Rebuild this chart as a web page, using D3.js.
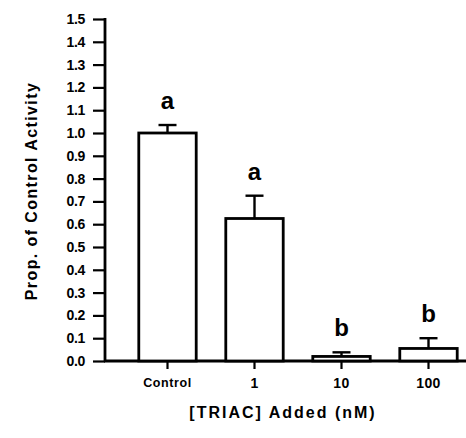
<!DOCTYPE html>
<html>
<head>
<meta charset="utf-8">
<script src="https://cdn.jsdelivr.net/npm/d3@7/dist/d3.min.js"></script>
<style>
  html, body { margin: 0; padding: 0; background: #fff; }
  svg { display: block; }
  text { font-family: "Liberation Sans", Arial, sans-serif; fill: #000; }
</style>
</head>
<body>
<svg id="chart" width="466" height="438"></svg>
<script>
// TRIAC dose response: proportion of control activity (mean + SE)
const categories = ["Control", "1", "10", "100"];
const means = [1.0, 0.625, 0.02, 0.055];
const errors = [0.035, 0.10, 0.018, 0.045];
const letters = ["a", "a", "b", "b"];
const yTicks = [0.0, 0.1, 0.2, 0.3, 0.4, 0.5, 0.6, 0.7, 0.8, 0.9, 1.0, 1.1, 1.2, 1.3, 1.4, 1.5];

const svg = d3.select("#chart");
const axisX = 105;

const x = d3.scaleBand().domain(categories).range([124, 472]).paddingInner(0.34).paddingOuter(0.17);
const y = d3.scaleLinear().domain([0, 1.5]).range([361, 19]);

// y axis
const yAxis = svg.append("g")
  .attr("transform", `translate(${axisX},0)`)
  .call(d3.axisLeft(y).tickValues(yTicks).tickFormat(d3.format(".1f")).tickSize(12).tickPadding(8));
yAxis.select(".domain").remove();
yAxis.selectAll(".tick line").attr("stroke", "#000").attr("stroke-width", 2.2);
yAxis.selectAll(".tick text").attr("font-size", 14).attr("font-weight", "bold").attr("letter-spacing", -0.3);
svg.append("line").attr("x1", axisX).attr("x2", axisX).attr("y1", y(1.5) - 1).attr("y2", y(0) + 1)
  .attr("stroke", "#000").attr("stroke-width", 2.8);

// x axis
const xAxis = svg.append("g")
  .attr("transform", `translate(0,${y(0)})`)
  .call(d3.axisBottom(x).tickSize(8).tickPadding(9));
xAxis.select(".domain").remove();
xAxis.selectAll(".tick line").attr("stroke", "#000").attr("stroke-width", 2.2);
xAxis.selectAll(".tick text").attr("font-weight", "bold")
  .attr("font-size", d => d === "Control" ? 12.5 : 14)
  .attr("letter-spacing", d => d === "Control" ? 0.6 : 0.4);
svg.append("line").attr("x1", axisX - 1).attr("x2", 466).attr("y1", y(0)).attr("y2", y(0))
  .attr("stroke", "#000").attr("stroke-width", 2.8);

// bars
svg.append("g").selectAll("rect").data(categories).join("rect")
  .attr("x", d => x(d))
  .attr("width", x.bandwidth())
  .attr("y", (d, i) => y(means[i]))
  .attr("height", (d, i) => y(0) - y(means[i]))
  .attr("fill", "#fff").attr("stroke", "#000").attr("stroke-width", 2.8);

// error bars (upper only)
const eb = svg.append("g");
categories.forEach((c, i) => {
  const cx = x(c) + x.bandwidth() / 2;
  eb.append("line").attr("x1", cx).attr("x2", cx)
    .attr("y1", y(means[i])).attr("y2", y(means[i] + errors[i]))
    .attr("stroke", "#000").attr("stroke-width", 2.4);
  eb.append("line").attr("x1", cx - 9).attr("x2", cx + 9)
    .attr("y1", y(means[i] + errors[i])).attr("y2", y(means[i] + errors[i]))
    .attr("stroke", "#000").attr("stroke-width", 2.4);
});

// significance letters
svg.append("g").selectAll("text").data(categories).join("text")
  .attr("x", d => x(d) + x.bandwidth() / 2)
  .attr("y", (d, i) => y(means[i] + errors[i]) - 16)
  .attr("text-anchor", "middle")
  .attr("font-size", 24).attr("font-weight", "bold")
  .text((d, i) => letters[i]);

// axis titles
svg.append("text").attr("x", 283).attr("y", 418).attr("text-anchor", "middle")
  .attr("font-size", 16).attr("font-weight", "bold").attr("letter-spacing", 2)
  .text("[TRIAC] Added (nM)");
svg.append("text").attr("transform", `translate(37,191) rotate(-90)`).attr("text-anchor", "middle")
  .attr("font-size", 16).attr("font-weight", "bold").attr("letter-spacing", 1.4)
  .text("Prop. of Control Activity");
</script>
</body>
</html>
